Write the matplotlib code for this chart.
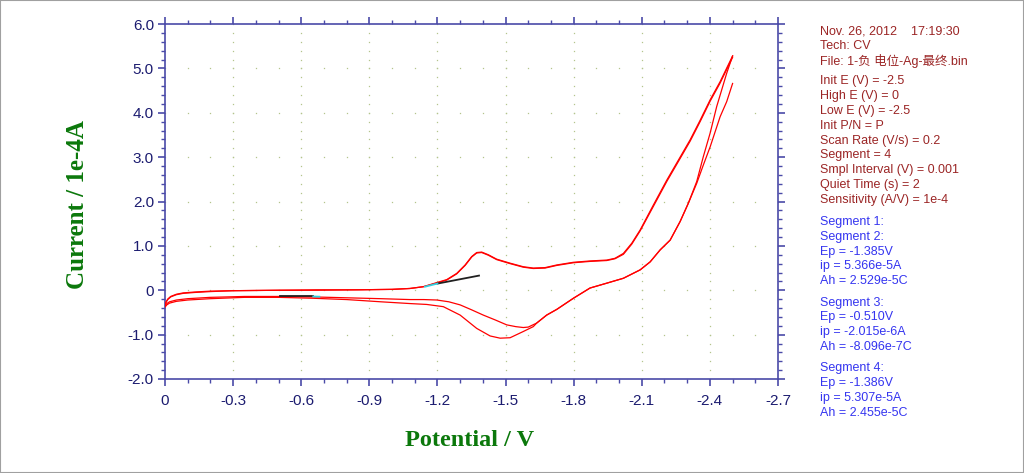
import matplotlib
matplotlib.use("Agg")
import matplotlib.pyplot as plt
import numpy as np
from matplotlib.patches import Rectangle

# ---------------- data (Potential V, Current 1e-4 A) ----------------
# forward branch (0 -> -2.5), segments 2 and 4
fwd_E = [0.000, -0.005, -0.012, -0.025, -0.05, -0.08, -0.13, -0.20, -0.30, -0.50, -0.67, -0.85, -1.00,
         -1.079, -1.138, -1.189, -1.241, -1.285, -1.322, -1.351, -1.373, -1.395, -1.424, -1.461,
         -1.520, -1.578, -1.622, -1.674, -1.726, -1.799, -1.872, -1.946, -1.982, -2.019, -2.056,
         -2.093, -2.151, -2.210, -2.261, -2.313, -2.357, -2.401, -2.445, -2.500]
fwd_I = [-0.33, -0.27, -0.21, -0.15, -0.10, -0.07, -0.05, -0.03, -0.01, 0.00, 0.00, 0.01, 0.02,
         0.04, 0.08, 0.16, 0.24, 0.38, 0.57, 0.76, 0.85, 0.86, 0.80, 0.70,
         0.61, 0.53, 0.50, 0.51, 0.57, 0.63, 0.66, 0.68, 0.72, 0.83, 1.06,
         1.36, 1.92, 2.48, 2.93, 3.39, 3.83, 4.29, 4.70, 5.28]
fwd2_I = [-0.32, -0.26, -0.20, -0.14, -0.09, -0.06, -0.04, -0.02, -0.01, 0.00, 0.01, 0.01, 0.02,
          0.04, 0.08, 0.15, 0.23, 0.37, 0.56, 0.75, 0.84, 0.85, 0.79, 0.69,
          0.60, 0.52, 0.49, 0.50, 0.56, 0.62, 0.65, 0.67, 0.71, 0.81, 1.04,
          1.34, 1.89, 2.45, 2.90, 3.36, 3.80, 4.26, 4.67, 5.25]

# reverse branch, segment 1 (-2.5 -> 0)
seg1_E = [-2.500, -2.474, -2.445, -2.401, -2.371, -2.342, -2.305, -2.269, -2.225, -2.181, -2.137,
          -2.093, -2.019, -1.946, -1.872, -1.799, -1.726, -1.681, -1.637, -1.622, -1.578, -1.520,
          -1.476, -1.432, -1.373, -1.300, -1.226, -1.153, -1.079, -0.95, -0.80, -0.65, -0.50,
          -0.35, -0.20, -0.10, -0.05, -0.02, -0.008, 0.0]
seg1_I = [4.66, 4.25, 3.91, 3.23, 2.82, 2.41, 1.96, 1.55, 1.13, 0.91, 0.64,
          0.46, 0.27, 0.16, 0.05, -0.18, -0.43, -0.56, -0.74, -0.82, -0.93, -1.07,
          -1.08, -1.03, -0.86, -0.56, -0.37, -0.32, -0.30, -0.26, -0.21, -0.18, -0.16,
          -0.16, -0.19, -0.22, -0.25, -0.29, -0.33, -0.38]

# reverse branch, segment 3 (-2.5 -> 0)
seg3_E = [-2.500, -2.474, -2.430, -2.401, -2.371, -2.342, -2.305, -2.269, -2.225, -2.181, -2.137,
          -2.093, -2.019, -1.946, -1.872, -1.799, -1.726, -1.681, -1.637, -1.600, -1.578, -1.545,
          -1.505, -1.455, -1.402, -1.350, -1.300, -1.250, -1.197, -1.140, -1.079, -0.95, -0.80,
          -0.65, -0.50, -0.35, -0.20, -0.10, -0.05, -0.02, -0.008, 0.0]
seg3_I = [5.28, 4.89, 4.14, 3.54, 3.01, 2.45, 1.96, 1.55, 1.13, 0.91, 0.64,
          0.46, 0.27, 0.16, 0.05, -0.18, -0.43, -0.56, -0.74, -0.83, -0.84, -0.82,
          -0.78, -0.67, -0.56, -0.44, -0.33, -0.26, -0.22, -0.21, -0.21, -0.19, -0.17,
          -0.15, -0.14, -0.14, -0.16, -0.19, -0.22, -0.26, -0.30, -0.35]

# peak baselines
base1_E = [-1.20, -1.383]
base1_I = [0.15, 0.33]
base1c_E = [-1.145, -1.20]
base1c_I = [0.08, 0.15]
base2_E = [-0.507, -0.653]
base2_I = [-0.14, -0.14]
base2c_E = [-0.653, -0.68]
base2c_I = [-0.14, -0.145]

x_ticks = [0, -0.3, -0.6, -0.9, -1.2, -1.5, -1.8, -2.1, -2.4, -2.7]
x_labels = ["0", "-0.3", "-0.6", "-0.9", "-1.2", "-1.5", "-1.8", "-2.1", "-2.4", "-2.7"]
y_ticks = [-2, -1, 0, 1, 2, 3, 4, 5, 6]
y_labels = ["-2.0", "-1.0", "0", "1.0", "2.0", "3.0", "4.0", "5.0", "6.0"]

info_red = ["Nov. 26, 2012    17:19:30", "Tech: CV", "File: 1-负 电位-Ag-最终.bin",
            None,
            "Init E (V) = -2.5", "High E (V) = 0", "Low E (V) = -2.5", "Init P/N = P",
            "Scan Rate (V/s) = 0.2", "Segment = 4", "Smpl Interval (V) = 0.001",
            "Quiet Time (s) = 2", "Sensitivity (A/V) = 1e-4"]
info_blue = ["Segment 1:", "Segment 2:", "Ep = -1.385V", "ip = 5.366e-5A", "Ah = 2.529e-5C",
             None,
             "Segment 3:", "Ep = -0.510V", "ip = -2.015e-6A", "Ah = -8.096e-7C",
             None,
             "Segment 4:", "Ep = -1.386V", "ip = 5.307e-5A", "Ah = 2.455e-5C"]

# ---------------- figure ----------------
W, H = 1024, 473
fig = plt.figure(figsize=(W / 100, H / 100), dpi=100)
fig.patches.append(Rectangle((0, 0), 1, 1, transform=fig.transFigure, fill=False,
                             edgecolor="#a0a0a0", linewidth=1.5))

ax = fig.add_axes([165 / W, 1 - 379 / H, 613 / W, 355 / H])
ax.set_xlim(0, -2.7)
ax.set_ylim(-2, 6)

axis_col = "#4a4aa8"
for s in ax.spines.values():
    s.set_color(axis_col)
    s.set_linewidth(1.2)

ax.set_xticks(x_ticks)
ax.set_xticklabels(x_labels)
ax.set_yticks(y_ticks)
ax.set_yticklabels(y_labels)
ax.set_xticks(np.arange(0, -2.71, -0.1), minor=True)
ax.set_yticks(np.arange(-2, 6.01, 0.2), minor=True)
ax.tick_params(which="both", direction="out", colors=axis_col, top=True, right=True,
               labelcolor="#1c1c70", labelsize=11)
ax.tick_params(which="major", length=5, width=1.2)
ax.tick_params(which="minor", length=3, width=1.0)
ax.tick_params(axis="x", pad=6)
ax.tick_params(axis="y", pad=3)
for lab in ax.get_xticklabels() + ax.get_yticklabels():
    lab.set_fontfamily("Liberation Sans")

# dotted grid (dots at minor-tick spacing along major lines)
gcol = "#b4c48c"
xmin = np.arange(0, -2.71, -0.1)
ymin = np.arange(-2, 6.01, 0.2)
for xv in x_ticks[1:-1]:
    ax.plot([xv] * len(ymin), ymin, linestyle="none", marker="s", markersize=0.9,
            color=gcol, markeredgewidth=0, zorder=1)
for yv in y_ticks[1:-1]:
    ax.plot(xmin, [yv] * len(xmin), linestyle="none", marker="s", markersize=0.9,
            color=gcol, markeredgewidth=0, zorder=1)

red = "#ff0000"
kw = dict(color=red, lw=0.9, zorder=3, solid_joinstyle="round", antialiased=True)
ax.plot(seg1_E, seg1_I, **kw)
ax.plot(fwd_E, fwd_I, **kw)
ax.plot(seg3_E, seg3_I, **kw)
ax.plot(fwd_E, fwd2_I, **kw)

ax.plot(base1_E, base1_I, color="#202020", lw=1.3, zorder=4)
ax.plot(base1c_E, base1c_I, color="#30d0e0", lw=1.3, zorder=4)
ax.plot(base2_E, base2_I, color="#202020", lw=1.3, zorder=4)
ax.plot(base2c_E, base2c_I, color="#30d0e0", lw=1.3, zorder=4)

# axis titles
green = "#0b780b"
fig.text(78 / W, 1 - 205 / H, "Current / 1e-4A", rotation=90, ha="center", va="center",
         color=green, fontsize=18, fontweight="bold", family="Liberation Serif")
fig.text(470 / W, 1 - 440 / H, "Potential / V", ha="center", va="center",
         color=green, fontsize=17.5, fontweight="bold", family="Liberation Serif")

# info text
fam = ["Liberation Sans", "Noto Sans CJK SC", "DejaVu Sans"]
y = 31
for t in info_red:
    if t is None:
        y += 6
        continue
    fig.text(820 / W, 1 - y / H, t, ha="left", va="center", color="#9b2525",
             fontsize=9, family=fam)
    y += 14.8
y = 222
for t in info_blue:
    if t is None:
        y += 6.5
        continue
    fig.text(820 / W, 1 - y / H, t, ha="left", va="center", color="#3535f0",
             fontsize=9, family=fam)
    y += 14.8

fig.savefig("out.png", dpi=100)
